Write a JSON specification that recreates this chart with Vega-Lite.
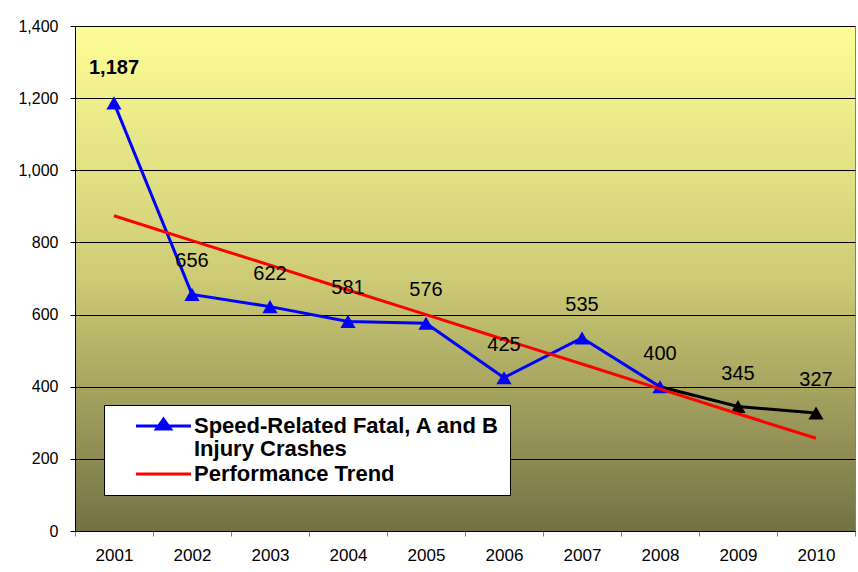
{
  "$schema": "https://vega.github.io/schema/vega-lite/v6.json",
  "width": 780,
  "height": 505,
  "autosize": "none",
  "padding": {"left": 75, "top": 26, "right": 3, "bottom": 41},
  "background": "white",
  "config": {"font": "Liberation Sans"},
  "view": {
    "stroke": "#808080",
    "strokeWidth": 1,
    "fill": {
      "gradient": "linear",
      "x1": 0, "y1": 0, "x2": 0, "y2": 1,
      "stops": [
        {"offset": 0, "color": "#FDFD96"},
        {"offset": 0.5, "color": "#CDCB75"},
        {"offset": 1, "color": "#737144"}
      ]
    }
  },
  "datasets": {
    "crashes": [
      {"year": "2001", "value": 1187},
      {"year": "2002", "value": 656},
      {"year": "2003", "value": 622},
      {"year": "2004", "value": 581},
      {"year": "2005", "value": 576},
      {"year": "2006", "value": 425},
      {"year": "2007", "value": 535},
      {"year": "2008", "value": 400},
      {"year": "2009", "value": 345},
      {"year": "2010", "value": 327}
    ],
    "lines": [
      {"year": "2001", "value": 1187, "series": "Speed-Related Fatal, A and B Injury Crashes"},
      {"year": "2002", "value": 656, "series": "Speed-Related Fatal, A and B Injury Crashes"},
      {"year": "2003", "value": 622, "series": "Speed-Related Fatal, A and B Injury Crashes"},
      {"year": "2004", "value": 581, "series": "Speed-Related Fatal, A and B Injury Crashes"},
      {"year": "2005", "value": 576, "series": "Speed-Related Fatal, A and B Injury Crashes"},
      {"year": "2006", "value": 425, "series": "Speed-Related Fatal, A and B Injury Crashes"},
      {"year": "2007", "value": 535, "series": "Speed-Related Fatal, A and B Injury Crashes"},
      {"year": "2008", "value": 400, "series": "Speed-Related Fatal, A and B Injury Crashes"},
      {"year": "2008", "value": 400, "series": "Recent"},
      {"year": "2009", "value": 345, "series": "Recent"},
      {"year": "2010", "value": 327, "series": "Recent"},
      {"year": "2001", "value": 874, "series": "Performance Trend"},
      {"year": "2002", "value": 805, "series": "Performance Trend"},
      {"year": "2003", "value": 737, "series": "Performance Trend"},
      {"year": "2004", "value": 668, "series": "Performance Trend"},
      {"year": "2005", "value": 600, "series": "Performance Trend"},
      {"year": "2006", "value": 531, "series": "Performance Trend"},
      {"year": "2007", "value": 463, "series": "Performance Trend"},
      {"year": "2008", "value": 394, "series": "Performance Trend"},
      {"year": "2009", "value": 325, "series": "Performance Trend"},
      {"year": "2010", "value": 257, "series": "Performance Trend"}
    ]
  },
  "encoding": {
    "x": {
      "field": "year",
      "type": "ordinal",
      "scale": {"type": "band", "paddingInner": 0, "paddingOuter": 0},
      "axis": {
        "title": null,
        "labelAngle": 0,
        "tickBand": "extent",
        "tickSize": 5,
        "tickColor": "#808080",
        "domainColor": "#000000",
        "labelFont": "Liberation Sans",
        "labelFontSize": 17,
        "labelColor": "#000000",
        "labelPadding": 11,
        "grid": false
      }
    },
    "y": {
      "field": "value",
      "type": "quantitative",
      "scale": {"domain": [0, 1400], "nice": false},
      "axis": {
        "title": null,
        "values": [0, 200, 400, 600, 800, 1000, 1200, 1400],
        "format": ",d",
        "grid": true,
        "gridColor": "#000000",
        "gridOpacity": 1,
        "gridWidth": 1,
        "domainColor": "#000000",
        "tickColor": "#000000",
        "tickSize": 5,
        "labelFont": "Liberation Sans",
        "labelFontSize": 16,
        "labelColor": "#000000",
        "labelPadding": 12
      }
    }
  },
  "layer": [
    {
      "data": {"name": "lines"},
      "transform": [{"filter": "datum.series != 'Performance Trend'"}],
      "mark": {"type": "line", "strokeWidth": 3},
      "encoding": {
        "color": {
          "field": "series",
          "type": "nominal",
          "scale": {
            "domain": ["Speed-Related Fatal, A and B Injury Crashes", "Performance Trend", "Recent"],
            "range": ["#0000FF", "#FF0000", "#000000"]
          },
          "legend": {
            "values": ["Speed-Related Fatal, A and B Injury Crashes", "Performance Trend"],
            "title": null,
            "orient": "none",
            "legendX": 29,
            "legendY": 379,
            "direction": "vertical",
            "fillColor": "#FFFFFF",
            "strokeColor": "#000000",
            "padding": 10,
            "rowPadding": 3,
            "symbolOffset": 38.5,
            "symbolType": "stroke",
            "symbolSize": 100,
            "symbolStrokeWidth": 3,
            "labelFont": "Liberation Sans",
            "labelFontSize": 22,
            "labelFontWeight": "bold",
            "labelColor": "#000000",
            "labelLimit": 500,
            "labelOffset": 19.5,
            "labelExpr": "datum.value == 'Performance Trend' ? datum.label : ['Speed-Related Fatal, A and B', 'Injury Crashes']",
            "encode": {
              "symbols": {
                "update": {
                  "shape": {"signal": "datum.value == 'Performance Trend' ? 'M-5.5,0L5.5,0' : 'M-5.5,0L5.5,0M-1.4,0.6L0,-1.4L1.4,0.6Z'"},
                  "fill": {"signal": "datum.value == 'Performance Trend' ? 'transparent' : '#0000FF'"}
                }
              },
              "labels": {
                "update": {"lineHeight": {"value": 23}}
              }
            }
          }
        }
      }
    },
    {
      "data": {"name": "crashes"},
      "mark": {"type": "point", "shape": "triangle-up", "filled": true, "size": 230, "opacity": 1},
      "encoding": {
        "color": {
          "condition": {"test": "toNumber(datum.year) >= 2009", "value": "#000000"},
          "value": "#0000FF"
        }
      }
    },
    {
      "data": {"name": "lines"},
      "transform": [{"filter": "datum.series == 'Performance Trend'"}],
      "mark": {"type": "line", "strokeWidth": 3, "color": "#FF0000"},
      "encoding": {}
    },
    {
      "data": {"name": "crashes"},
      "transform": [{"filter": "datum.year != '2001'"}],
      "mark": {"type": "text", "dy": -33, "fontSize": 20, "font": "Liberation Sans", "color": "#000000"},
      "encoding": {
        "text": {"field": "value", "type": "quantitative", "format": ",d"}
      }
    },
    {
      "data": {"name": "crashes"},
      "transform": [{"filter": "datum.year == '2001'"}],
      "mark": {"type": "text", "dy": -35, "fontSize": 20, "fontWeight": "bold", "font": "Liberation Sans", "color": "#000000"},
      "encoding": {
        "text": {"field": "value", "type": "quantitative", "format": ",d"}
      }
    }
  ]
}
